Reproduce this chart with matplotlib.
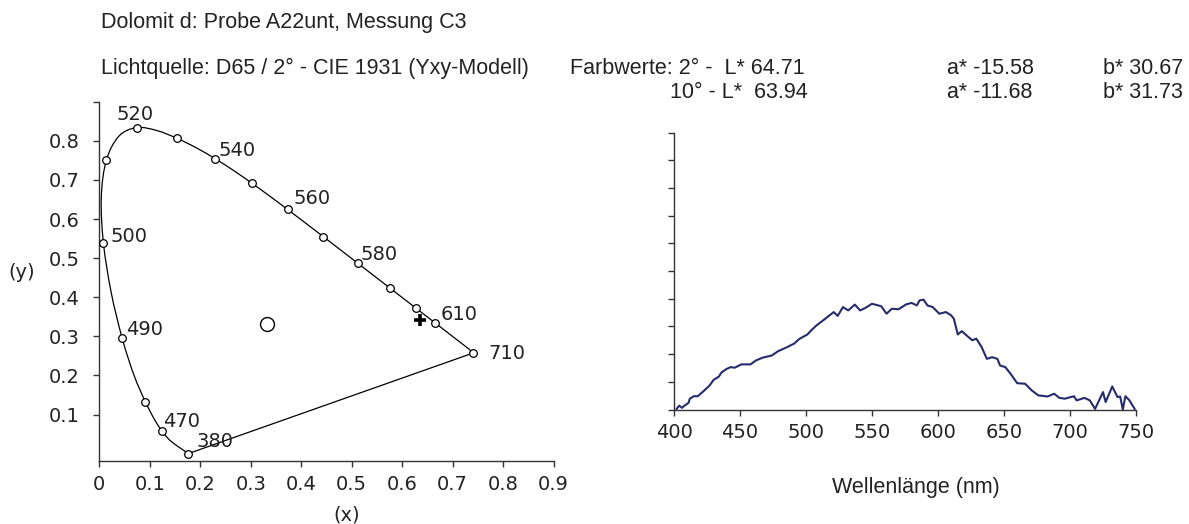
import matplotlib
matplotlib.use("Agg")
import matplotlib.pyplot as plt
from matplotlib.path import Path
from matplotlib.patches import PathPatch
import numpy as np

# ---------------- data ----------------
# spectral locus (CIE 1931 chromaticity, as drawn)
locus_x = [0.176, 0.1689, 0.1644, 0.1566, 0.1440, 0.1355, 0.1241, 0.1096, 0.0913,
           0.0687, 0.0454, 0.0235, 0.0082, 0.0039, 0.0139, 0.0389, 0.0743, 0.1142,
           0.1547, 0.1929, 0.2296, 0.2658, 0.3016, 0.3373, 0.3731, 0.4087, 0.4441,
           0.4788, 0.5125, 0.5448, 0.5752, 0.6029, 0.6270, 0.6482, 0.6658, 0.6915,
           0.7079, 0.7190, 0.7260, 0.7300, 0.7334, 0.740]
locus_y = [0.000, 0.0069, 0.0109, 0.0177, 0.0297, 0.0399, 0.0578, 0.0868, 0.1327,
           0.2007, 0.2950, 0.4127, 0.5384, 0.6548, 0.7502, 0.8120, 0.8338, 0.8262,
           0.8059, 0.7816, 0.7543, 0.7243, 0.6923, 0.6589, 0.6245, 0.5896, 0.5547,
           0.5202, 0.4866, 0.4544, 0.4242, 0.3965, 0.3725, 0.3514, 0.3340, 0.3083,
           0.2920, 0.2809, 0.2740, 0.2700, 0.2666, 0.257]

# marked wavelengths
mark_nm = [380, 470, 480, 490, 500, 510, 520, 530, 540, 550, 560, 570, 580, 590, 600, 610, 710]
mark_x = [0.176, 0.1241, 0.0913, 0.0454, 0.0082, 0.0139, 0.0743, 0.1547, 0.2296, 0.3016,
          0.3731, 0.4441, 0.5125, 0.5752, 0.6270, 0.6658, 0.740]
mark_y = [0.000, 0.0578, 0.1327, 0.2950, 0.5384, 0.7502, 0.8338, 0.8059, 0.7543, 0.6923,
          0.6245, 0.5547, 0.4866, 0.4242, 0.3725, 0.3340, 0.257]

labelled_nm = [520, 540, 560, 580, 610, 710, 500, 490, 470, 380]
label_offsets = [(-2, 13, 'center'), (3, 8, 'left'), (6, 11, 'left'), (3, 9, 'left'),
                 (5, 9, 'left'), (16, 0, 'left'), (7, 7, 'left'), (4, 9, 'left'),
                 (1, 10, 'left'), (8, 12, 'left')]

white_point = (0.333, 0.331)
sample_point = (0.636, 0.342)

# reflectance spectrum
wl = [402, 404, 406, 408, 411, 412, 415, 418, 423, 427, 430, 434, 436, 440, 443, 446, 451,
      458, 462, 467, 474, 479, 486, 491, 495, 501, 504, 508, 513, 517, 521, 524, 528, 532,
      537, 541, 545, 550, 557, 561, 565, 570, 576, 580, 584, 586, 589, 592, 596, 601, 606,
      610, 612, 615, 618, 623, 626, 629, 633, 637, 641, 645, 647, 651, 655, 660, 666, 671,
      676, 683, 688, 692, 696, 703, 705, 711, 715, 719, 725, 727, 732, 736, 738, 740, 742,
      745, 749]
refl = [0.02, 0.14, 0.06, 0.14, 0.24, 0.39, 0.48, 0.48, 0.69, 0.87, 1.07, 1.19, 1.34, 1.47,
        1.53, 1.51, 1.63, 1.63, 1.77, 1.87, 1.95, 2.11, 2.26, 2.38, 2.55, 2.71, 2.86, 3.04,
        3.22, 3.37, 3.52, 3.38, 3.70, 3.58, 3.79, 3.58, 3.67, 3.82, 3.73, 3.46, 3.64, 3.62,
        3.80, 3.85, 3.76, 3.94, 3.97, 3.76, 3.70, 3.46, 3.52, 3.40, 3.28, 2.71, 2.83, 2.62,
        2.50, 2.56, 2.26, 1.83, 1.89, 1.83, 1.59, 1.53, 1.29, 0.95, 0.93, 0.69, 0.51, 0.47,
        0.57, 0.42, 0.39, 0.48, 0.33, 0.42, 0.33, 0.02, 0.63, 0.27, 0.83, 0.45, 0.47, 0.00,
        0.48, 0.33, 0.02]

title_line = "Dolomit d: Probe A22unt, Messung C3"
light_line = "Lichtquelle: D65 / 2° - CIE 1931 (Yxy-Modell)"
row1 = ["Farbwerte: 2° -  L* 64.71", "a* -15.58", "b* 30.67"]
row2 = ["10° - L*  63.94", "a* -11.68", "b* 31.73"]

xticks_left = [0, 0.1, 0.2, 0.3, 0.4, 0.5, 0.6, 0.7, 0.8, 0.9]
xticklabels_left = ["0", "0.1", "0.2", "0.3", "0.4", "0.5", "0.6", "0.7", "0.8", "0.9"]
yticks_left = [0.1, 0.2, 0.3, 0.4, 0.5, 0.6, 0.7, 0.8, 0.9]
yticklabels_left = ["0.1", "0.2", "0.3", "0.4", "0.5", "0.6", "0.7", "0.8", ""]
xticks_right = [400, 450, 500, 550, 600, 650, 700, 750]


def smooth_path(xs, ys):
    """Catmull-Rom curve through the points, drawn as cubic Bezier segments."""
    P = np.column_stack([xs, ys])
    n = len(P)
    verts = [P[0]]
    codes = [Path.MOVETO]
    for i in range(n - 1):
        p0 = P[i - 1] if i > 0 else P[i]
        p1, p2 = P[i], P[i + 1]
        p3 = P[i + 2] if i + 2 < n else P[i + 1]
        c1 = p1 + (p2 - p0) / 6.0
        c2 = p2 - (p3 - p1) / 6.0
        verts += [c1, c2, p2]
        codes += [Path.CURVE4] * 3
    return Path(verts, codes)


# ---------------- figure ----------------
W, H = 1189, 524
fig = plt.figure(figsize=(W / 100, H / 100), dpi=100)
tickfont = "DejaVu Sans"
headfont = "Liberation Sans"
tcol = "#222222"
hsize = 15.5
tsize = 14

# left: chromaticity diagram
L0, L1, LT, LB = 99.3, 553.5, 101.7, 460.7
axl = fig.add_axes([L0 / W, 1 - LB / H, (L1 - L0) / W, (LB - LT) / H])
axl.add_patch(PathPatch(smooth_path(locus_x, locus_y), facecolor="none",
                        edgecolor="black", lw=0.9))
axl.plot([locus_x[-1], locus_x[0]], [locus_y[-1], locus_y[0]], color="black", lw=0.9)
axl.plot(mark_x, mark_y, 'o', mfc="white", mec="black", ms=5.5, mew=0.9, zorder=3)
axl.plot([white_point[0]], [white_point[1]], 'o', mfc="none", mec="black", ms=10, mew=1.0)
axl.plot([sample_point[0]], [sample_point[1]], '+', color="black", ms=8, mew=2.6)
for nm, (dx, dy, ha) in zip(labelled_nm, label_offsets):
    i = mark_nm.index(nm)
    axl.annotate(str(nm), (mark_x[i], mark_y[i]), xytext=(dx, dy), textcoords="offset pixels",
                 ha=ha, va="center", fontsize=tsize, family=tickfont, color=tcol)
axl.set_xlim(0, 0.9)
axl.set_ylim(-0.018, 0.9)
axl.set_xticks(xticks_left)
axl.set_xticklabels(xticklabels_left)
axl.set_yticks(yticks_left)
axl.set_yticklabels(yticklabels_left)
for s in ["top", "right"]:
    axl.spines[s].set_visible(False)
for s in ["left", "bottom"]:
    axl.spines[s].set_linewidth(1.0)
    axl.spines[s].set_color("#333333")
axl.tick_params(direction="out", length=4, width=1.0, color="#333333", labelsize=tsize,
                labelcolor=tcol)
axl.tick_params(axis="x", pad=6)
axl.tick_params(axis="y", pad=10)
for lab in axl.get_xticklabels() + axl.get_yticklabels():
    lab.set_family(tickfont)
axl.annotate("(x)", xy=(0.49, H - 515), xycoords=("data", "figure pixels"), ha="center",
             va="center", fontsize=tsize, family=tickfont, color=tcol)
fig.text(21.7 / W, 1 - 273 / H, "(y)", ha="center", va="center", fontsize=tsize,
         family=tickfont, color=tcol)

# right: spectrum
R0, R1, RT, RB = 674, 1136, 132.7, 409.5
axr = fig.add_axes([R0 / W, 1 - RB / H, (R1 - R0) / W, (RB - RT) / H])
axr.plot(wl, refl, color="#262b6b", lw=1.5)
axr.set_xlim(400, 750)
axr.set_ylim(0, 10)
axr.set_xticks(xticks_right)
axr.set_yticks(range(0, 11))
axr.set_yticklabels([])
for s in ["top", "right"]:
    axr.spines[s].set_visible(False)
for s in ["left", "bottom"]:
    axr.spines[s].set_linewidth(1.0)
    axr.spines[s].set_color("#333333")
axr.tick_params(direction="out", length=4, width=1.0, color="#333333", labelsize=tsize,
                labelcolor=tcol, pad=6)
for lab in axr.get_xticklabels():
    lab.set_family(tickfont)
axr.annotate("Wellenlänge (nm)", xy=(583, H - 488), xycoords=("data", "figure pixels"),
             ha="center", va="center", fontsize=hsize, family=headfont, color=tcol)

# header texts
fig.text(101 / W, 1 - 22.5 / H, title_line, ha="left", va="center", fontsize=hsize,
         family=headfont, color=tcol)
fig.text(101 / W, 1 - 68 / H, light_line, ha="left", va="center", fontsize=hsize,
         family=headfont, color=tcol)
xs_row1 = [570, 947, 1103]
xs_row2 = [670, 947, 1103]
for x, t in zip(xs_row1, row1):
    fig.text(x / W, 1 - 68 / H, t, ha="left", va="center", fontsize=hsize, family=headfont, color=tcol)
for x, t in zip(xs_row2, row2):
    fig.text(x / W, 1 - 93 / H, t, ha="left", va="center", fontsize=hsize, family=headfont, color=tcol)

fig.savefig("out.png", dpi=100)
